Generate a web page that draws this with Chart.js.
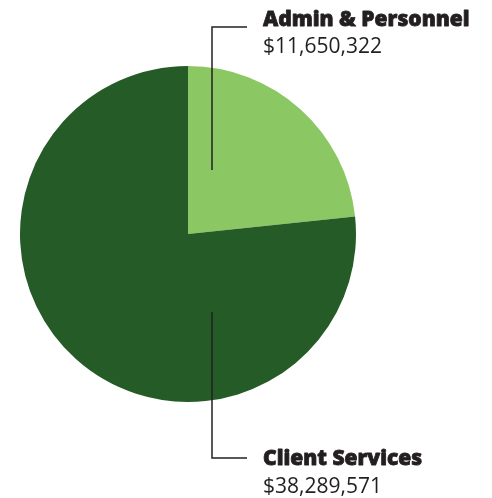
<!DOCTYPE html>
<html>
<head>
<meta charset="utf-8">
<script src="https://cdn.jsdelivr.net/npm/chart.js@4.4.0/dist/chart.umd.min.js"></script>
<style>
  html, body { margin: 0; padding: 0; background: #ffffff; }
  #wrap { width: 492px; height: 498px; position: relative; }
</style>
</head>
<body>
<div id="wrap"><canvas id="pieChart"></canvas></div>
<script>
// ======================================================
// DATA
// ======================================================

const categories = ["Admin & Personnel", "Client Services"];
const amounts = [11650322, 38289571];
const sliceColors = ["#8bc762", "#255b27"];

function money(v) {
    return "$" + v.toLocaleString("en-US");
}

// ======================================================
// CALLOUT LABELS
// ======================================================

const callouts = {
    id: "callouts",
    afterDraw(chart) {
        const ctx = chart.ctx;
        const area = chart.chartArea;
        const cx = (area.left + area.right) / 2;
        const cy = (area.top + area.bottom) / 2;
        const lineX = cx + 24;
        const textX = cx + 75;

        ctx.save();
        ctx.strokeStyle = "#222222";
        ctx.lineWidth = 1.5;

        // top label (Admin)
        ctx.beginPath();
        ctx.moveTo(lineX, cy - 64);
        ctx.lineTo(lineX, 27);
        ctx.lineTo(cx + 59, 27);
        ctx.stroke();

        // bottom label (Client)
        ctx.beginPath();
        ctx.moveTo(lineX, cy + 78);
        ctx.lineTo(lineX, 458);
        ctx.lineTo(cx + 59, 458);
        ctx.stroke();

        ctx.fillStyle = "#231f20";
        ctx.strokeStyle = "#231f20";
        ctx.textBaseline = "alphabetic";
        ctx.textAlign = "left";

        // heavy title text
        ctx.font = "800 21px 'Open Sans'";
        ctx.lineWidth = 0.8;
        ctx.lineJoin = "round";
        [[categories[0], 26], [categories[1], 465]].forEach(function (t) {
            ctx.fillText(t[0], textX, t[1]);
            ctx.strokeText(t[0], textX, t[1]);
        });

        ctx.font = "21px 'Open Sans'";
        ctx.fillText(money(amounts[0]), textX, 53);
        ctx.fillText(money(amounts[1]), textX, 493);
        ctx.restore();
    }
};

// ======================================================
// PIE
// ======================================================

const canvas = document.getElementById("pieChart");

new Chart(canvas.getContext("2d"), {
    type: "pie",
    data: {
        labels: categories,
        datasets: [{
            data: amounts,
            backgroundColor: sliceColors,
            borderWidth: 0
        }]
    },
    options: {
        responsive: true,
        maintainAspectRatio: false,
        animation: false,
        layout: {
            padding: { left: 20, right: 136, top: 66, bottom: 96 }
        },
        plugins: {
            legend: { display: false },
            tooltip: { enabled: false }
        }
    },
    plugins: [callouts]
});
</script>
</body>
</html>
